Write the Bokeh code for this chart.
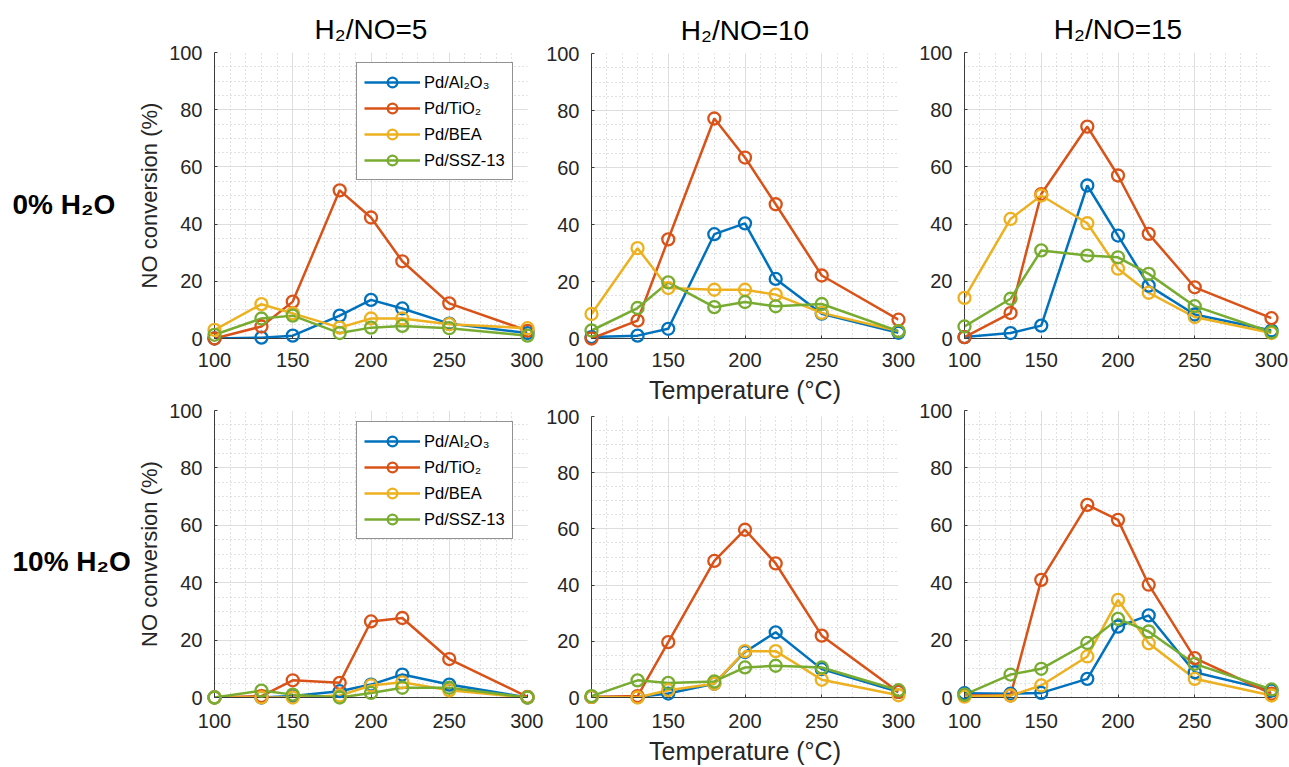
from bokeh.plotting import figure
from bokeh.layouts import column, row
from bokeh.models import Legend, LegendItem, FixedTicker, Range1d
from bokeh.core.properties import value
from bokeh.embed import file_html
from bokeh.resources import INLINE

FONT = "Liberation Sans"

temperature = [100, 130, 150, 180, 200, 220, 250, 300]
catalysts = ["Pd/Al₂O₃", "Pd/TiO₂", "Pd/BEA", "Pd/SSZ-13"]
colors = ["#0072BD", "#D95319", "#EDB120", "#77AC30"]
ratio_titles = ["H₂/NO=5", "H₂/NO=10", "H₂/NO=15"]
water_labels = ["0% H₂O", "10% H₂O"]
x_ticks = [100, 150, 200, 250, 300]
y_ticks = [0, 20, 40, 60, 80, 100]

# 0 % H2O
dry_r5_al2o3 = [0, 0.3, 1, 8, 13.5, 10.5, 5.2, 1.9]
dry_r5_tio2 = [0, 4.2, 12.9, 51.8, 42.3, 27, 12.3, 2.7]
dry_r5_bea = [3, 12, 8.8, 3.8, 7, 7, 5, 3.6]
dry_r5_ssz13 = [1.3, 7, 8, 1.9, 3.8, 4.4, 3.6, 1]

dry_r10_al2o3 = [0.5, 1, 3.4, 36.6, 40.4, 20.9, 8.7, 2]
dry_r10_tio2 = [0, 6.3, 34.8, 77.2, 63.5, 47.1, 22.1, 6.6]
dry_r10_bea = [8.6, 31.7, 17.7, 17.1, 17.1, 15.4, 9, 2.6]
dry_r10_ssz13 = [2.8, 10.7, 19.7, 11, 12.8, 11.3, 12.1, 2.6]

dry_r15_al2o3 = [0.5, 1.9, 4.5, 53.5, 36, 18.5, 8.4, 2.8]
dry_r15_tio2 = [0.5, 8.9, 50.5, 74.1, 57, 36.6, 17.9, 7.1]
dry_r15_bea = [14.2, 41.8, 50, 40.3, 24.4, 16, 7.5, 1.9]
dry_r15_ssz13 = [4.2, 13.9, 30.8, 29, 28.4, 22.6, 11.3, 2.2]

# 10 % H2O
wet_r5_al2o3 = [0, 0, 0.5, 2.2, 4.5, 8, 4.5, 0]
wet_r5_tio2 = [0, 0.5, 6, 5.1, 26.5, 27.7, 13.4, 0.2]
wet_r5_bea = [0, 0, 0, 0.7, 4.2, 5.3, 2.5, 0]
wet_r5_ssz13 = [0, 2.4, 1, 0, 1.6, 3.4, 3.4, 0]

wet_r10_al2o3 = [0.2, 0.2, 1.4, 4.9, 16.2, 23.2, 10.1, 2]
wet_r10_tio2 = [0.2, 0.5, 19.7, 48.6, 59.7, 47.7, 22, 2]
wet_r10_bea = [0.2, 0, 2.6, 4.9, 16.5, 16.5, 6.3, 0.8]
wet_r10_ssz13 = [0.5, 6.1, 5.2, 5.7, 10.7, 11.3, 10.7, 2.6]

wet_r15_al2o3 = [1.5, 1.3, 1.6, 6.5, 24.7, 28.6, 8.8, 2.4]
wet_r15_tio2 = [0.7, 0.7, 41, 67.1, 61.9, 39.3, 13.7, 1.3]
wet_r15_bea = [0.3, 0.7, 4.2, 14.3, 34, 18.9, 6.5, 0.7]
wet_r15_ssz13 = [1, 8, 10, 19, 27.4, 23, 11.7, 2.8]

panels = [
    [[dry_r5_al2o3, dry_r5_tio2, dry_r5_bea, dry_r5_ssz13],
     [dry_r10_al2o3, dry_r10_tio2, dry_r10_bea, dry_r10_ssz13],
     [dry_r15_al2o3, dry_r15_tio2, dry_r15_bea, dry_r15_ssz13]],
    [[wet_r5_al2o3, wet_r5_tio2, wet_r5_bea, wet_r5_ssz13],
     [wet_r10_al2o3, wet_r10_tio2, wet_r10_bea, wet_r10_ssz13],
     [wet_r15_al2o3, wet_r15_tio2, wet_r15_bea, wet_r15_ssz13]],
]

# layout (pixels): per column [top figure, bottom figure]
col_width = [409, 373, 373]
col_border_left = [80, 44, 44]
col_border_right = [16, 18, 18]
fig_height = [[398, 369], [406, 361], [398, 369]]
fig_border_top = [[52, 12], [53, 10], [52, 12]]
fig_border_bottom = [[60, 70], [67, 70], [60, 70]]
label_col_width = 134
label_x = 12
label_baseline_from_top = [204, 163]


def make_label_fig(r):
    h = fig_height[0][r]
    p = figure(width=label_col_width, height=h, x_range=Range1d(0, label_col_width),
               y_range=Range1d(0, h), x_axis_location=None, y_axis_location=None,
               output_backend="svg", toolbar_location=None, title_location=None,
               min_border=0)
    p.min_border_left = p.min_border_right = p.min_border_top = p.min_border_bottom = 0
    p.outline_line_color = None
    p.grid.visible = False
    p.text(x=[label_x], y=[h - label_baseline_from_top[r]], text=[water_labels[r]],
           text_font=value(FONT), text_font_size="28px", text_font_style="bold",
           text_color="#000000", text_baseline="alphabetic", text_align="left")
    return p


def make_panel(r, c):
    p = figure(
        width=col_width[c], height=fig_height[c][r],
        min_border_left=col_border_left[c], min_border_right=col_border_right[c],
        min_border_top=fig_border_top[c][r], min_border_bottom=fig_border_bottom[c][r],
        x_range=Range1d(100, 300), y_range=Range1d(0, 100),
        output_backend="svg", toolbar_location=None,
        title=ratio_titles[c] if r == 0 else None,
        title_location="above" if r == 0 else None,
    )
    p.outline_line_color = None
    p.background_fill_color = "white"
    p.border_fill_color = "white"
    if r == 0:
        p.title.align = "center"
        p.title.text_font = FONT
        p.title.text_font_size = "28px"
        p.title.text_font_style = "normal"
        p.title.text_color = "#000000"
        p.title.standoff = 15

    p.xaxis.ticker = FixedTicker(ticks=x_ticks, minor_ticks=list(range(100, 301, 10)))
    p.yaxis.ticker = FixedTicker(ticks=y_ticks, minor_ticks=list(range(0, 101, 5)))
    for ax in (p.xaxis, p.yaxis):
        ax.axis_line_color = "#3c3c3c"
        ax.axis_line_width = 1
        ax.major_tick_in = 3
        ax.major_tick_out = 0
        ax.major_tick_line_color = "#3c3c3c"
        ax.minor_tick_line_color = None
        ax.major_label_text_font = FONT
        ax.major_label_text_font_size = "20px"
        ax.major_label_text_color = "#262626"
        ax.axis_label_text_font = FONT
        ax.axis_label_text_font_style = "normal"
        ax.axis_label_text_color = "#262626"
    p.yaxis.major_label_standoff = 8
    p.xaxis.major_label_standoff = 10 if r == 0 else 12

    if c == 0:
        p.yaxis.axis_label = "NO conversion (%)"
        p.yaxis.axis_label_text_font_size = "22px"
        p.yaxis.axis_label_standoff = 4
    if c == 1:
        p.xaxis.axis_label = "Temperature (°C)"
        p.xaxis.axis_label_text_font_size = "25px"
        p.xaxis.axis_label_standoff = 6

    for g in (p.xgrid, p.ygrid):
        g.grid_line_color = "#dedede"
        g.grid_line_width = 1
        g.minor_grid_line_color = "#c4c4c4"
        g.minor_grid_line_dash = "1 3"
        g.minor_grid_line_width = 1

    items = []
    for name, color, vals in zip(catalysts, colors, panels[r][c]):
        lr = p.line(temperature, vals, line_color=color, line_width=2.5)
        sr = p.scatter(temperature, vals, marker="circle", size=12,
                       line_color=color, fill_color=None, line_width=2.3,
                       level="overlay")
        items.append(LegendItem(label=name, renderers=[lr, sr]))

    if c == 0:
        leg = Legend(items=items, location=(142, 158))
        leg.label_text_font = FONT
        leg.label_text_font_size = "16.5px"
        leg.label_text_color = "#000000"
        leg.glyph_width = 56
        leg.glyph_height = 24
        leg.label_height = 24
        leg.label_standoff = 4
        leg.spacing = 2
        leg.padding = 7
        leg.margin = 0
        leg.border_line_color = "#262626"
        leg.border_line_width = 1
        leg.background_fill_color = "white"
        leg.background_fill_alpha = 1
        p.add_layout(leg)
    return p


label_column = column(make_label_fig(0), make_label_fig(1))
panel_columns = [column(make_panel(0, c), make_panel(1, c)) for c in range(3)]
layout = row(label_column, *panel_columns)

open("out.html", "w").write(file_html(layout, INLINE))
